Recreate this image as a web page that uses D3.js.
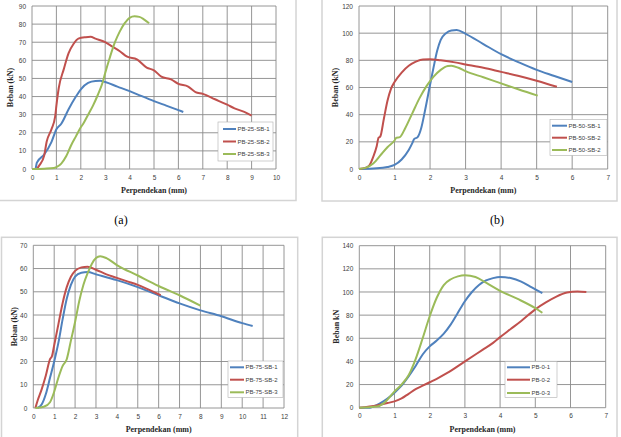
<!DOCTYPE html>
<html>
<head>
<meta charset="utf-8">
<script src="https://cdn.jsdelivr.net/npm/d3@7"></script>
<style>
  body { margin: 0; background: #fff; }
  svg { display: block; }
</style>
</head>
<body>
<div id="chart"></div>
<script>
const pb25sb1 = [[0.15,0],[0.2,3.5],[0.5,8],[0.8,15],[1.0,22],[1.2,25],[1.5,33],[1.8,40],[2.0,44],[2.3,47.5],[2.6,48.6],[2.8,48.7],[3.0,48],[3.5,45.5],[4.0,43],[4.5,40.2],[5.0,37.5],[5.5,35],[6.0,32.5],[6.2,31.5]];
const pb25sb2 = [[0.2,0],[0.3,2],[0.5,7.5],[0.6,15],[0.8,22],[0.95,29],[1.0,35],[1.1,45],[1.3,55],[1.5,64],[1.7,69],[1.9,72],[2.2,72.8],[2.4,73],[2.6,72],[3.0,70],[3.3,67.5],[3.6,65],[3.9,62],[4.3,60.5],[4.7,56],[5.0,54.5],[5.3,51],[5.7,49.5],[6.0,47],[6.4,45.5],[6.7,42.5],[7.0,41.5],[7.5,38.5],[8.0,35.5],[8.3,33.5],[8.7,31.5],[9.0,29.5]];
const pb25sb3 = [[0,0],[0.5,0.2],[0.9,0.5],[1.0,1],[1.2,3],[1.4,7],[1.6,13],[1.8,18],[2.0,23],[2.1,25],[2.3,30],[2.5,35],[2.7,41],[2.9,48],[3.0,53],[3.2,62],[3.4,70],[3.6,76],[3.8,80.5],[4.0,83.5],[4.2,84.3],[4.4,84],[4.6,82.5],[4.8,80.5]];

const pb50sb1 = [[0,0],[0.5,0.5],[0.8,1.5],[1.0,3],[1.2,7],[1.4,14],[1.5,19],[1.55,22],[1.65,23.5],[1.75,30],[1.85,42],[2.0,62],[2.1,75],[2.2,87],[2.3,95],[2.45,100],[2.6,102],[2.75,102.3],[3.0,99.5],[3.5,92],[4.0,84.5],[4.5,78.5],[5.0,73],[5.5,68.5],[6.0,64]];
const pb50sb2 = [[0,0],[0.2,1],[0.3,3],[0.4,9],[0.5,17],[0.55,23],[0.6,24],[0.7,37],[0.8,50],[0.9,59],[1.0,64],[1.2,71],[1.4,76],[1.6,79],[1.8,80.7],[2.0,80.8],[2.3,80],[2.7,78.5],[3.0,77],[3.5,74.5],[4.0,71.5],[4.5,68.5],[5.0,65],[5.57,60.5]];
const pb50sb2b = [[0,0],[0.2,1],[0.4,4],[0.6,10],[0.8,16],[1.0,21],[1.05,23],[1.15,23.5],[1.3,30],[1.5,41],[1.7,52],[1.9,61],[2.1,68],[2.3,73],[2.5,75.8],[2.6,76],[2.8,74.5],[3.0,72],[3.5,67.5],[4.0,63],[4.5,58.5],[5.03,54]];

const pb75sb1 = [[0.2,0],[0.4,1.5],[0.6,6],[0.8,13],[1.0,20],[1.2,28],[1.4,38],[1.6,47],[1.8,53],[2.0,56.5],[2.3,58.2],[2.6,58.5],[3.0,57.5],[4.0,55],[5.0,52],[6.0,48.5],[7.0,45],[8.0,42],[9.0,39.5],[10.0,36.5],[10.5,35.3]];
const pb75sb2 = [[0.1,0],[0.2,3],[0.4,8],[0.6,14],[0.8,21],[0.9,22.5],[1.0,27],[1.2,36],[1.4,45],[1.6,52],[1.8,56.5],[2.0,59],[2.3,60.5],[2.6,60.8],[3.0,59.5],[3.5,57.5],[4.0,56],[4.5,54.5],[5.0,53],[5.5,51],[6.1,48.5]];
const pb75sb3 = [[0.1,0],[0.5,0.5],[0.8,2.5],[1.0,7],[1.2,13],[1.4,18],[1.6,21],[1.8,29],[2.0,37],[2.2,46],[2.4,53],[2.6,58],[2.8,62],[3.0,64.5],[3.2,65.3],[3.5,64.5],[4.0,61.5],[5.0,57],[6.0,52.5],[7.0,48.5],[8.0,44]];

const pb01 = [[0,0],[0.3,0],[0.4,1],[0.6,4],[0.8,8],[1.0,13],[1.2,19],[1.4,27],[1.6,36],[1.8,46],[2.0,53],[2.2,58],[2.4,64],[2.6,72],[2.8,82],[3.0,92],[3.2,100],[3.4,106],[3.6,110],[3.8,112],[4.0,113],[4.3,112],[4.6,109],[4.9,104],[5.2,99]];
const pb02 = [[0,0],[0.5,2],[0.8,4],[1.0,5.5],[1.2,8],[1.4,12],[1.6,16],[1.8,19],[2.0,22],[2.2,25],[2.5,30],[3.0,40],[3.3,46],[3.5,50],[3.8,56],[4.0,61],[4.3,68],[4.6,75],[5.0,85],[5.3,91],[5.6,96],[5.9,99.5],[6.2,100.5],[6.45,100]];
const pb03 = [[0,0],[0.5,1],[0.7,4],[1.0,14],[1.2,20],[1.4,28],[1.6,42],[1.8,60],[2.0,79],[2.2,95],[2.4,106],[2.6,111],[2.8,113.5],[3.0,114.5],[3.3,113],[3.6,108],[4.0,101],[4.5,94],[5.0,86],[5.2,82]];

const labelsA = ["PB-25-SB-1", "PB-25-SB-2", "PB-25-SB-3"];
const labelsB = ["PB-50-SB-1", "PB-50-SB-2", "PB-50-SB-2"];
const labelsC = ["PB-75-SB-1", "PB-75-SB-2", "PB-75-SB-3"];
const labelsD = ["PB-0-1", "PB-0-2", "PB-0-3"];

const xTicksA = d3.range(0, 11);
const yTicksA = d3.range(0, 91, 10);
const xTicksB = d3.range(0, 8);
const yTicksB = d3.range(0, 121, 20);
const xTicksC = d3.range(0, 13);
const yTicksC = d3.range(0, 71, 10);
const xTicksD = d3.range(0, 8);
const yTicksD = d3.range(0, 141, 20);

const colors = ["#4F81BD", "#C0504D", "#9BBB59"];

const svg = d3.select("#chart")
              .append("svg")
              .attr("width", 621)
              .attr("height", 437);

const panels = [
    { frame: [-5, -5, 296, 200.5], plot: [32, 276, 6, 169], xTicks: xTicksA, yTicks: yTicksA,
      series: [pb25sb1, pb25sb2, pb25sb3], labels: labelsA, yTitle: "Beban (kN)", yTitleX: 10,
      legend: { box: [218, 273, 122, 161], rows: [129, 141.5, 154], line: [223, 236] }, caption: [121, "(a)"] },
    { frame: [322, -5, 617, 201], plot: [359, 607.7, 6, 169], xTicks: xTicksB, yTicks: yTicksB,
      series: [pb50sb1, pb50sb2, pb50sb2b], labels: labelsB, yTitle: "Beban (kN)", yTitleX: 335,
      legend: { box: [550, 607, 119.5, 155.5], rows: [125.7, 137.7, 150], line: [552, 567] }, caption: [497, "(b)"] },
    { frame: [1.5, 237.3, 297.7, 445], plot: [33.3, 284, 245.3, 408], xTicks: xTicksC, yTicks: yTicksC,
      series: [pb75sb1, pb75sb2, pb75sb3], labels: labelsC, yTitle: "Beban (kN)", yTitleX: 14,
      legend: { box: [228, 283, 361, 397.5], rows: [367.3, 379.7, 392.3], line: [230, 244] } },
    { frame: [322.3, 237.3, 617, 445], plot: [359.3, 605.7, 245.7, 407.7], xTicks: xTicksD, yTicks: yTicksD,
      series: [pb01, pb02, pb03], labels: labelsD, yTitle: "Beban kN", yTitleX: 336,
      legend: { box: [505, 557, 361.5, 397.5], rows: [367.3, 379.7, 393], line: [507, 530] } }
];

panels.forEach(p => {
    const [fx0, fy0, fx1, fy1] = p.frame;
    const [left, right, top, bottom] = p.plot;

    // outer chart border
    svg.append("rect")
       .attr("x", fx0).attr("y", fy0)
       .attr("width", fx1 - fx0).attr("height", fy1 - fy0)
       .attr("fill", "#fff")
       .attr("stroke", "#d4d4d4")
       .attr("stroke-width", 1.5);

    const x = d3.scaleLinear()
                .domain(d3.extent(p.xTicks))
                .range([left, right]);

    const y = d3.scaleLinear()
                .domain(d3.extent(p.yTicks))
                .range([bottom, top]);

    const g = svg.append("g");

    // grid
    g.selectAll(".vgrid")
     .data(p.xTicks)
     .join("line")
     .attr("x1", d => x(d)).attr("x2", d => x(d))
     .attr("y1", top).attr("y2", bottom)
     .attr("stroke", "#8a8a8a").attr("stroke-width", 0.9);

    g.selectAll(".hgrid")
     .data(p.yTicks)
     .join("line")
     .attr("x1", left).attr("x2", right)
     .attr("y1", d => y(d)).attr("y2", d => y(d))
     .attr("stroke", "#8a8a8a").attr("stroke-width", 0.9);

    // X Axis labels
    const xAxis = g.append("g")
                   .attr("transform", `translate(0, ${bottom})`)
                   .call(d3.axisBottom(x).tickValues(p.xTicks).tickFormat(d3.format("d")).tickSize(0).tickPadding(6));
    xAxis.select(".domain").remove();
    xAxis.selectAll("text")
         .style("font-family", "'Liberation Sans', Arial, sans-serif")
         .style("font-size", "6.5px")
         .attr("fill", "#404040");

    // Y Axis labels
    const yAxis = g.append("g")
                   .attr("transform", `translate(${left}, 0)`)
                   .call(d3.axisLeft(y).tickValues(p.yTicks).tickFormat(d3.format("d")).tickSize(0).tickPadding(6));
    yAxis.select(".domain").remove();
    yAxis.selectAll("text")
         .style("font-family", "'Liberation Sans', Arial, sans-serif")
         .style("font-size", "6.5px")
         .attr("fill", "#404040");

    // axis titles
    g.append("text")
     .attr("x", (left + right) / 2)
     .attr("y", bottom + 24)
     .attr("text-anchor", "middle")
     .style("font-family", "'Liberation Serif', 'Times New Roman', serif")
     .style("font-weight", "bold")
     .style("font-size", "8px")
     .attr("fill", "#262626")
     .text("Perpendekan (mm)");

    g.append("text")
     .attr("transform", `translate(${p.yTitleX}, ${(top + bottom) / 2}) rotate(-90)`)
     .attr("text-anchor", "middle")
     .attr("dy", "0.35em")
     .style("font-family", "'Liberation Serif', 'Times New Roman', serif")
     .style("font-weight", "bold")
     .style("font-size", "8px")
     .attr("fill", "#262626")
     .text(p.yTitle);

    // Lines
    const line = d3.line()
                   .x(d => x(d[0]))
                   .y(d => y(d[1]))
                   .curve(d3.curveMonotoneX);

    g.selectAll(".series")
     .data(p.series)
     .join("path")
     .attr("fill", "none")
     .attr("stroke", (d, i) => colors[i])
     .attr("stroke-width", 2)
     .attr("stroke-linejoin", "round")
     .attr("d", d => line(d));

    // Legend
    const lg = p.legend;
    g.append("rect")
     .attr("x", lg.box[0]).attr("y", lg.box[2])
     .attr("width", lg.box[1] - lg.box[0]).attr("height", lg.box[3] - lg.box[2])
     .attr("fill", "#fff")
     .attr("stroke", "#b0b0b0")
     .attr("stroke-width", 0.6);

    const legend = g.selectAll(".legend")
                    .data(p.labels)
                    .join("g")
                    .attr("transform", (d, i) => `translate(0, ${lg.rows[i]})`);

    legend.append("line")
          .attr("x1", lg.line[0]).attr("x2", lg.line[1])
          .attr("stroke", (d, i) => colors[i])
          .attr("stroke-width", 2);

    legend.append("text")
          .attr("x", lg.line[1] + 1.5)
          .attr("dy", "0.35em")
          .style("font-family", "'Liberation Sans', Arial, sans-serif")
          .style("font-size", "6px")
          .attr("fill", "#404040")
          .text(d => d);

    if (p.caption) {
        svg.append("text")
           .attr("x", p.caption[0])
           .attr("y", 224)
           .attr("text-anchor", "middle")
           .style("font-family", "'Liberation Serif', 'Times New Roman', serif")
           .style("font-size", "12px")
           .attr("fill", "#000")
           .text(p.caption[1]);
    }
});
</script>
</body>
</html>
